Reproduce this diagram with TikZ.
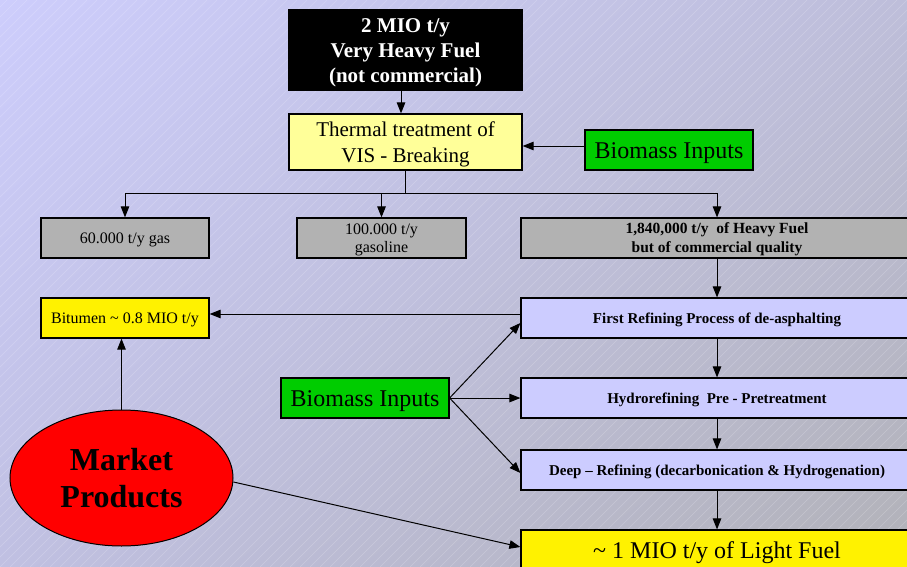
\documentclass[tikz,border=0pt]{standalone}
\usepackage{fontspec}
\setmainfont{Liberation Serif}
\usetikzlibrary{arrows.meta,shapes.geometric,shadings}
\definecolor{bgA}{RGB}{205,205,252}
\definecolor{bgB}{RGB}{190,190,218}
\definecolor{bgC}{RGB}{192,192,226}
\definecolor{bgD}{RGB}{178,178,184}
\definecolor{lav}{RGB}{204,204,255}
\definecolor{paleyel}{RGB}{255,255,153}
\definecolor{bgreen}{RGB}{0,204,0}
\definecolor{gbox}{RGB}{178,178,178}
\newcommand\pstrut{\rule[-0.216em]{0pt}{1.107em}}
\tikzset{
  box/.style={draw=black, line width=1.2pt, inner sep=0pt, align=center, text=black},
  arr/.style={line width=1pt, -{Triangle[length=11pt,width=8.5pt]}},
  ln/.style={line width=1pt},
  fs/.style n args={2}{font=\fontsize{#1}{#2}\selectfont},
}
\begin{document}
\begin{tikzpicture}[x=1pt,y=-1pt]
\clip (0,0) rectangle (907,567);
\shade[upper left=bgA, upper right=bgB, lower left=bgC, lower right=bgD] (0,0) rectangle (907,567);
\foreach \i in {-570,-560,...,910} \draw[white, opacity=0.22, line width=0.4pt] (\i,567) -- (\i+567,0);

\node[box, fill=black, text=white, minimum width=233pt, minimum height=80pt, fs={21}{25}] (black) at (405.5,50) {\pstrut\textbf{2 MIO t/y}\\\textbf{Very Heavy Fuel}\\\textbf{(not commercial)}\pstrut};
\node[box, fill=paleyel, minimum width=233pt, minimum height=56pt, fs={21}{26}] (thermal) at (405.5,142) {\pstrut Thermal treatment of\\VIS - Breaking\pstrut};
\node[box, fill=bgreen, minimum width=168pt, minimum height=40pt, fs={24}{28}] (bioA) at (669,150) {\pstrut Biomass Inputs};

\node[box, fill=gbox, minimum width=168pt, minimum height=40pt, fs={16}{18}] (gas) at (125,238) {\pstrut 60.000 t/y gas};
\node[box, fill=gbox, minimum width=169pt, minimum height=40pt, fs={16}{18}] (gasoline) at (381.5,238) {\pstrut 100.000 t/y\\gasoline\pstrut};
\node[box, fill=gbox, minimum width=392pt, minimum height=40pt, fs={15.5}{19}] (heavy) at (717,238) {\pstrut\textbf{1,840,000 t/y\ \ of Heavy Fuel}\\\textbf{but of commercial quality}\pstrut};

\node[box, fill=yellow, minimum width=168pt, minimum height=40pt, fs={16}{18}] (bitumen) at (125,318) {\pstrut Bitumen \textasciitilde\ 0.8 MIO t/y};
\node[box, fill=lav, minimum width=392pt, minimum height=40pt, fs={15}{18}] (first) at (717,318) {\pstrut\textbf{First Refining Process of de-asphalting}};
\node[box, fill=lav, minimum width=392pt, minimum height=40pt, fs={15}{18}] (hydro) at (717,398) {\pstrut\textbf{Hydrorefining\ \ Pre - Pretreatment}};
\node[box, fill=lav, minimum width=392pt, minimum height=40pt, fs={15}{18}] (deep) at (717,470) {\pstrut\textbf{Deep -- Refining (decarbonication \& Hydrogenation)}};
\node[box, fill=yellow, minimum width=392pt, minimum height=40pt, fs={24}{28}] (light) at (717,550) {\pstrut\textasciitilde\ 1 MIO t/y of Light Fuel};

\node[box, fill=bgreen, minimum width=168pt, minimum height=40pt, fs={24}{28}] (bioB) at (365,398) {\pstrut Biomass Inputs};
\node[box, ellipse, line width=1pt, fill=red, minimum width=223pt, minimum height=136pt, fs={32}{37}] (market) at (121.5,478) {\pstrut\textbf{Market}\\\textbf{Products}\pstrut};

\coordinate (bus) at (405.5,193);

\draw[arr] ([xshift=-4.5pt]black.south) -- ([xshift=-4.5pt]thermal.north);
\draw[arr] ([yshift=4pt]bioA.west) -- ([yshift=4pt]bioA.west -| thermal.east);
\draw[ln] (thermal.south) -- (bus);
\draw[ln] (gas.north |- bus) -- (heavy.north |- bus);
\draw[arr] (gas.north |- bus) -- (gas.north);
\draw[arr] (gasoline.north |- bus) -- (gasoline.north);
\draw[arr] (heavy.north |- bus) -- (heavy.north);

\draw[arr] (heavy.south) -- (first.north);
\draw[arr] (first.south) -- (hydro.north);
\draw[arr] (hydro.south) -- (deep.north);
\draw[arr] (deep.south) -- (light.north);
\draw[arr] ([yshift=4pt]first.west) -- ([yshift=4pt]first.west -| bitumen.east);
\draw[arr] (market.north) -- (market.north |- bitumen.south);

\draw[arr] (bioB.east) -- ([yshift=-5pt]first.west);
\draw[arr] (bioB.east) -- (hydro.west);
\draw[arr] (bioB.east) -- ([yshift=-3pt]deep.west);
\draw[arr] ([yshift=-4pt]market.east) -- ([yshift=3pt]light.west);
\end{tikzpicture}
\end{document}
